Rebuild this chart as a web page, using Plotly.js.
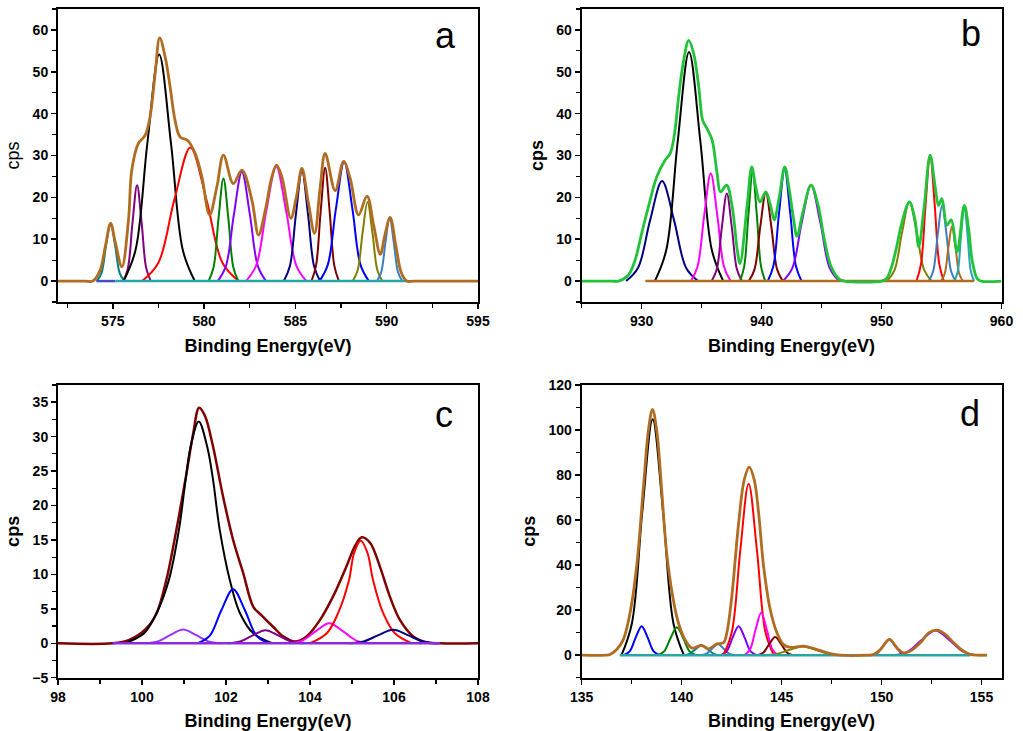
<!DOCTYPE html>
<html>
<head>
<meta charset="utf-8">
<script src="https://cdn.plot.ly/plotly-3.0.1.min.js"></script>
<style>html,body{margin:0;padding:0;background:#fff;}#chart{width:1023px;height:731px;}</style>
</head>
<body>
<div id="chart"></div>
<script>
// ---------- Panel a (x: 572-595 eV) ----------
const aEnvX = [572,573.5,573.9,574.3,574.6,574.88,575.15,575.5,575.86,576.04,576.4,576.77,577.04,577.32,577.57,577.87,578.14,578.41,578.69,579.1,579.51,579.88,580.3,580.7,581.06,581.6,582.07,582.62,582.98,583.35,583.71,583.97,584.26,584.75,585.05,585.36,585.7,586.05,586.35,586.63,587.18,587.64,588.0,588.46,588.92,589.3,589.65,589.9,590.19,590.5,590.8,591.1,591.5,595];
const aEnvY = [0,0,0,2.5,8.5,13.8,9,3.4,14.6,26.5,32.9,34.8,39.2,49.6,58.1,53.5,46.4,38.4,34.4,33.6,30.5,24.9,15.8,22.5,30.1,23.3,26.5,19.3,11.0,16.9,24.9,27.7,24.9,15.0,20,26.9,19,11.4,22,30.5,21.6,28.6,24.5,15.8,20.3,13,6.4,11,15.2,8.5,2,0,0,0];
const aTealX = [574.13,574.38,574.63,574.88,575.13,575.38,575.63], aTealY = [0,1.9,8.4,13.8,8.4,1.9,0];
const aPurpleX = [575.58,575.83,576.08,576.33,576.58,576.83,577.08], aPurpleY = [0,3.1,13.9,22.9,13.9,3.1,0];
const aBlackX = [575.59,576.24,576.89,577.54,578.19,578.84,579.49], aBlackY = [0,7.3,32.8,54.1,32.8,7.3,0];
const aRedX = [576.61,577.49,578.37,579.25,580.13,581.01,581.89], aRedY = [0,4.3,19.4,31.9,19.4,4.3,0];
const aGreenX = [580.25,580.52,580.79,581.06,581.33,581.6,581.87], aGreenY = [0,3.3,14.9,24.5,14.9,3.3,0];
const aVioletX = [580.75,581.19,581.63,582.07,582.51,582.95,583.39], aVioletY = [0,3.5,15.8,26.1,15.8,3.5,0];
const aMagentaX = [582.3,582.85,583.4,583.95,584.5,585.05,585.6], aMagentaY = [0,3.7,16.6,27.4,16.6,3.7,0];
const aNavyX = [584.37,584.7,585.03,585.36,585.69,586.02,586.35], aNavyY = [0,3.6,16.0,26.3,16.0,3.6,0];
const aDarkRedX = [585.88,586.13,586.38,586.63,586.88,587.13,587.38], aDarkRedY = [0,3.7,16.4,27.1,16.4,3.7,0];
const aBlueX = [586.32,586.77,587.22,587.67,588.12,588.57,589.02], aBlueY = [0,3.8,17.3,28.5,17.3,3.8,0];
const aOliveX = [588.14,588.41,588.68,588.95,589.22,589.49,589.76], aOliveY = [0,2.6,11.5,18.9,11.5,2.6,0];
const aSteelX = [589.47,589.7,589.93,590.16,590.39,590.62,590.85], aSteelY = [0,2.1,9.2,15.2,9.2,2.1,0];
const aBase1X = [574.1,575.15], aBase1Y = [0,0];
const aBase2X = [575.15,591.1], aBase2Y = [0,0];

// ---------- Panel b (x: 925-960 eV) ----------
const bEnvX = [925,927.5,928.05,928.88,929.45,930.0,930.56,931.26,931.96,932.38,932.74,933.08,933.5,933.92,934.34,934.76,935.09,935.45,935.87,936.29,936.57,937.08,937.55,937.97,938.2,938.81,939.18,939.51,939.87,940.35,940.77,941.05,941.47,941.93,942.31,942.64,942.95,943.42,944.12,944.68,945.24,945.8,946.5,946.9,950.0,950.42,950.84,951.26,951.68,952.32,952.79,953.1,953.55,954.05,954.47,954.75,955.03,955.45,955.81,956.3,956.9,957.27,957.55,957.97,958.3,960];
const bEnvY = [0,0,0,1.4,5,11.4,17.7,24.9,28.9,30.5,35.2,44,52.7,57.5,54.3,46.4,38.4,36.4,33.7,25.7,21.3,22.9,17.7,7.4,4.2,18.5,27.3,22.5,18.9,21.3,17.7,14.6,20.1,27.3,21.7,15.3,10.7,16.2,22.9,18.5,9.8,3.4,0.4,0,0,0.6,3.4,8.2,13.8,18.9,14.6,8.2,17.7,30.1,22.5,18.1,19.7,13.4,14.6,7.0,18.1,12.2,5,0.6,0,0];
const bNavyX = [928.7,929.7,930.7,931.7,932.7,933.7,934.7], bNavyY = [0,3.2,14.5,23.9,14.5,3.2,0];
const bBlackX = [931.1,932.05,933.0,933.95,934.9,935.85,936.8], bBlackY = [0,7.4,33.2,54.7,33.2,7.4,0];
const bMagentaX = [934.11,934.66,935.21,935.76,936.31,936.86,937.41], bMagentaY = [0,3.5,15.6,25.7,15.6,3.5,0];
const bPurpleX = [935.84,936.26,936.68,937.1,937.52,937.94,938.36], bPurpleY = [0,2.8,12.7,20.9,12.7,2.8,0];
const bGreenX = [938.2,938.55,938.9,939.25,939.6,939.95,940.3], bGreenY = [0,3.5,15.8,26.0,15.8,3.5,0];
const bDarkRedX = [938.94,939.41,939.88,940.35,940.82,941.29,941.76], bDarkRedY = [0,2.8,12.8,21.1,12.8,2.8,0];
const bBlueX = [940.51,940.98,941.45,941.92,942.39,942.86,943.33], bBlueY = [0,3.6,16.2,26.7,16.2,3.6,0];
const bVioletX = [941.78,942.56,943.34,944.12,944.9,945.68,946.46], bVioletY = [0,3.1,13.9,22.9,13.9,3.1,0];
const bOliveX = [950.46,951.08,951.7,952.32,952.94,953.56,954.18], bOliveY = [0,2.6,11.5,18.9,11.5,2.6,0];
const bRedX = [952.91,953.29,953.67,954.05,954.43,954.81,955.19], bRedY = [0,4.1,18.3,30.1,18.3,4.1,0];
const bSteelX = [953.94,954.31,954.68,955.05,955.42,955.79,956.16], bSteelY = [0,2.4,11.0,18.1,11.0,2.4,0];
const bBrownX = [954.97,955.27,955.57,955.87,956.17,956.47,956.77], bBrownY = [0,1.8,8.0,13.1,8.0,1.8,0];
const bTealX = [956.09,956.36,956.63,956.9,957.17,957.44,957.71], bTealY = [0,2.4,11.0,18.1,11.0,2.4,0];
const bBaseX = [930.3,957.7], bBaseY = [0,0];

// ---------- Panel c (x: 98-108 eV) ----------
const cEnvX = [98,99.3,99.7,100.11,100.35,100.58,100.82,101.06,101.22,101.36,101.5,101.69,101.93,102.17,102.41,102.65,102.84,103.12,103.36,103.64,103.92,104.24,104.55,104.87,105.07,105.23,105.43,105.66,105.9,106.14,106.46,106.77,107.1,108];
const cEnvY = [0,0,0.5,2.2,4.4,9.2,16.5,24.7,30.5,34.2,33,28.6,21.3,15.0,10.2,5.3,4.1,2.4,1.0,0.25,1.0,3.4,6.8,11.2,14.1,15.4,14.6,11.2,6.8,3.4,1.0,0.15,0,0];
const cBlackX = [99.6,100.05,100.35,100.64,100.88,101.04,101.16,101.35,101.55,101.69,101.85,102.09,102.33,102.65,103.1], cBlackY = [0,1.45,4.4,9.2,16.5,23.8,28.6,32.2,28.6,23.8,16.5,9.2,4.4,1.45,0];
const cVioletX = [100.08,100.38,100.68,100.98,101.28,101.58,101.88], cVioletY = [0,0.27,1.21,2.0,1.21,0.27,0];
const cBlueX = [101.33,101.61,101.89,102.17,102.45,102.73,103.01], cBlueY = [0,1.06,4.8,7.85,4.8,1.06,0];
const cPurpleX = [102.04,102.34,102.64,102.94,103.24,103.54,103.84], cPurpleY = [0,0.26,1.15,1.9,1.15,0.26,0];
const cMagentaX = [103.5,103.82,104.14,104.46,104.78,105.1,105.42], cMagentaY = [0,0.39,1.76,2.9,1.76,0.39,0];
const cRedX = [104.0,104.4,104.67,104.93,105.05,105.21,105.37,105.5,105.74,106.02,106.42], cRedY = [0,1.45,4.4,9.2,13.1,14.9,13.1,9.2,4.4,1.45,0];
const cNavyX = [104.93,105.28,105.63,105.98,106.33,106.68,107.03], cNavyY = [0,0.26,1.18,1.95,1.18,0.26,0];
const cBaseX = [99.3,107.1], cBaseY = [0,0];

// ---------- Panel d (x: 135-156 eV) ----------
const dEnvX = [135,136.2,136.42,136.75,137.08,137.42,137.75,138.09,138.34,138.54,138.75,139.0,139.25,139.55,139.84,140.17,140.51,141.0,141.34,141.76,142.09,142.26,142.51,142.85,143.13,143.38,143.63,143.85,144.1,144.43,144.77,145.1,145.43,146.1,146.77,147.44,147.94,149.3,149.6,149.94,150.39,150.77,151.1,151.44,151.94,152.36,152.78,153.19,153.61,154.03,154.45,154.78,155.28];
const dEnvY = [0,0,0.3,2.5,6.9,18.8,39.5,74.9,100,109.2,100,73.5,45.4,26.2,14.3,6.9,3.2,4.4,2.8,5.0,5.5,9.9,26.2,58.7,77.9,83.5,77.9,63.1,39.5,20.3,9.9,4.7,3.5,4.0,2.5,0.7,0,0,0.3,2.5,7.0,3.2,1.0,1.8,5.5,9.9,11.1,9.2,5.5,2.2,0.3,0,0];
const dBlueX = [137.1,137.4,137.7,138.0,138.3,138.6,138.9], dBlueY = [0,1.7,7.8,12.9,7.8,1.7,0];
const dBlackX = [136.99,137.51,138.03,138.55,139.07,139.59,140.11], dBlackY = [0,14.1,63.6,104.8,63.6,14.1,0];
const dGreenX = [138.8,139.12,139.44,139.76,140.08,140.4,140.72], dGreenY = [0,1.7,7.5,12.4,7.5,1.7,0];
const dTealX = [140.1,140.4,140.7,141.0,141.3,141.6,141.9], dTealY = [0,0.6,2.7,4.4,2.7,0.6,0];
const dSteelX = [140.97,141.25,141.53,141.81,142.09,142.37,142.65], dSteelY = [0,0.7,3.0,5.0,3.0,0.7,0];
const dVioletX = [141.95,142.25,142.55,142.85,143.15,143.45,143.75], dVioletY = [0,1.7,7.8,12.9,7.8,1.7,0];
const dRedX = [142.09,142.51,142.93,143.35,143.77,144.19,144.61], dRedY = [0,10.3,46.2,76.1,46.2,10.3,0];
const dMagentaX = [143.14,143.42,143.7,143.98,144.26,144.54,144.82], dMagentaY = [0,2.5,11.4,18.8,11.4,2.5,0];
const dDarkRedX = [143.78,144.08,144.38,144.68,144.98,145.28,145.58], dDarkRedY = [0,1.1,4.9,8.1,4.9,1.1,0];
const dOliveX = [144.1,144.75,145.4,146.05,146.7,147.35,148.0], dOliveY = [0,0.5,2.4,3.9,2.4,0.5,0];
const dPurpleX = [149.49,149.79,150.09,150.39,150.69,150.99,151.29], dPurpleY = [0,0.9,4.2,7.0,4.2,0.9,0];
const dViolet2X = [150.6,151.3,152.0,152.7,153.4,154.1,154.8], dViolet2Y = [0,1.5,6.7,11.0,6.7,1.5,0];
const dBaseX = [136.9,154.45], dBaseY = [0,0];

// ---------- tick / axis labels ----------
const panelLetters = ['a','b','c','d'];
const xTitle = 'Binding Energy(eV)';
const yTitle = 'cps';

// ---------- build ----------
const FONT = 'Liberation Sans, Arial, sans-serif';
function curve(x, y, color, xa, ya, w, smooth) {
  return {type:'scatter', mode:'lines', x:x, y:y, xaxis:xa, yaxis:ya,
    line:{color:color, width:w||2, shape: smooth===false ? 'linear' : 'spline', smoothing:1},
    hoverinfo:'skip', showlegend:false};
}
const traces = [];
// a
[[aTealX,aTealY,'#008080'],[aPurpleX,aPurpleY,'#800080'],[aBlackX,aBlackY,'#000000'],[aRedX,aRedY,'#ff0000'],
 [aGreenX,aGreenY,'#008000'],[aVioletX,aVioletY,'#8000ff'],[aMagentaX,aMagentaY,'#ff00ff'],[aNavyX,aNavyY,'#000080'],
 [aDarkRedX,aDarkRedY,'#800000'],[aBlueX,aBlueY,'#0000ff'],[aOliveX,aOliveY,'#808000'],[aSteelX,aSteelY,'#3a7ec0']
].forEach(c => traces.push(curve(c[0],c[1],c[2],'x','y')));
traces.push(curve(aBase1X,aBase1Y,'#3f4fc8','x','y',2.5,false));
traces.push(curve(aBase2X,aBase2Y,'#26a6a6','x','y',2.5,false));
traces.push(curve(aEnvX,aEnvY,'#b06d22','x','y',2.8));
// b
[[bNavyX,bNavyY,'#000080'],[bBlackX,bBlackY,'#000000'],[bMagentaX,bMagentaY,'#ff00ff'],[bPurpleX,bPurpleY,'#800080'],
 [bGreenX,bGreenY,'#008000'],[bDarkRedX,bDarkRedY,'#800000'],[bBlueX,bBlueY,'#0000ff'],[bVioletX,bVioletY,'#8000ff'],
 [bOliveX,bOliveY,'#808000'],[bRedX,bRedY,'#ff0000'],[bSteelX,bSteelY,'#3a7ec0'],[bBrownX,bBrownY,'#b06d22'],[bTealX,bTealY,'#26a6b6']
].forEach(c => traces.push(curve(c[0],c[1],c[2],'x2','y2')));
traces.push(curve(bBaseX,bBaseY,'#b06d22','x2','y2',2.5,false));
traces.push(curve(bEnvX,bEnvY,'#22c33a','x2','y2',2.8));
// c
traces.push(curve(cEnvX,cEnvY,'#800000','x3','y3',2.5));
[[cVioletX,cVioletY,'#9933ff'],[cBlackX,cBlackY,'#000000'],[cBlueX,cBlueY,'#0000ff'],[cPurpleX,cPurpleY,'#800080'],
 [cMagentaX,cMagentaY,'#ff00ff'],[cRedX,cRedY,'#ff0000'],[cNavyX,cNavyY,'#000080']
].forEach(c => traces.push(curve(c[0],c[1],c[2],'x3','y3')));
traces.push(curve(cBaseX,cBaseY,'#8a2be2','x3','y3',2.5,false));
// d
[[dBlueX,dBlueY,'#0000ff'],[dBlackX,dBlackY,'#000000'],[dGreenX,dGreenY,'#008000'],[dTealX,dTealY,'#008080'],
 [dSteelX,dSteelY,'#3a7ec0'],[dVioletX,dVioletY,'#8000ff'],[dRedX,dRedY,'#ff0000'],[dMagentaX,dMagentaY,'#ff00ff'],
 [dDarkRedX,dDarkRedY,'#800000'],[dOliveX,dOliveY,'#808000'],[dPurpleX,dPurpleY,'#800080'],[dViolet2X,dViolet2Y,'#8000ff']
].forEach(c => traces.push(curve(c[0],c[1],c[2],'x4','y4')));
traces.push(curve(dBaseX,dBaseY,'#26a6a6','x4','y4',2.5,false));
traces.push(curve(dEnvX,dEnvY,'#b06d22','x4','y4',2.8));

function xax(domain, anchor, range, tick0, dtick, mdtick) {
  return {domain:domain, anchor:anchor, range:range, tick0:tick0, dtick:dtick,
    showline:true, linecolor:'#000', linewidth:2, mirror:true, showgrid:false, zeroline:false,
    ticks:'outside', ticklen:5, tickwidth:1.5, tickcolor:'#000',
    minor:{ticks:'outside', ticklen:4, tickwidth:1.2, tickcolor:'#000', dtick:mdtick, tick0:tick0, showgrid:false},
    tickfont:{family:FONT, size:14, weight:'bold', color:'#000'},
    title:{text:xTitle, standoff:12, font:{family:FONT, size:18, weight:'bold', color:'#000'}}};
}
function yax(domain, anchor, range, dtick, mdtick, bold) {
  return {domain:domain, anchor:anchor, range:range, tick0:0, dtick:dtick,
    showline:true, linecolor:'#000', linewidth:2, mirror:true, showgrid:false, zeroline:false,
    ticks:'outside', ticklen:5, tickwidth:1.5, tickcolor:'#000',
    minor:{ticks:'outside', ticklen:4, tickwidth:1.2, tickcolor:'#000', dtick:mdtick, tick0:0, showgrid:false},
    tickfont:{family:FONT, size:14, weight:'bold', color:'#000'},
    title:{text:yTitle, standoff:8, font:{family:FONT, size:18, weight: bold ? 'bold' : 'normal', color:'#000'}}};
}
const W = 1023, H = 731;
const dxL = [58/W, 478/W], dxR = [581.7/W, 1001.5/W];
const dyT = [(H-302)/H, (H-9)/H], dyB = [(H-677.7)/H, (H-385)/H];
const layout = {
  width:W, height:H, margin:{l:0,r:0,t:0,b:0}, paper_bgcolor:'#fff', plot_bgcolor:'#fff', showlegend:false,
  xaxis: xax(dxL,'y',[572,595],575,5,2.5),
  yaxis: yax(dyT,'x',[-5,65],10,5,false),
  xaxis2: xax(dxR,'y2',[925,960],930,10,5),
  yaxis2: yax(dyT,'x2',[-5,65],10,5,true),
  xaxis3: xax(dxL,'y3',[98,108],98,2,1),
  yaxis3: yax(dyB,'x3',[-5,37.5],5,2.5,true),
  xaxis4: xax(dxR,'y4',[135,156],135,5,2.5),
  yaxis4: yax(dyB,'x4',[-10,120],20,10,true),
  annotations: [
    {text:panelLetters[0], x:445/W, y:1-36/H},
    {text:panelLetters[1], x:971/W, y:1-33/H},
    {text:panelLetters[2], x:444/W, y:1-415/H},
    {text:panelLetters[3], x:970/W, y:1-413/H}
  ].map(a => Object.assign(a, {xref:'paper', yref:'paper', xanchor:'center', yanchor:'middle', showarrow:false,
      font:{family:FONT, size:36, color:'#000'}}))
};
Plotly.newPlot('chart', traces, layout, {staticPlot:true, displayModeBar:false});
</script>
</body>
</html>
